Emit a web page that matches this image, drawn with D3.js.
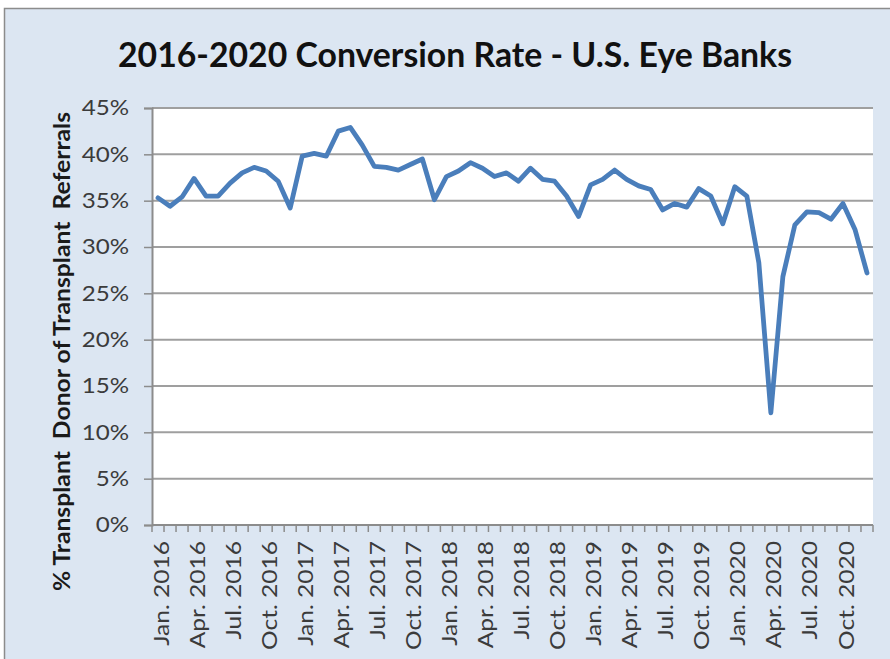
<!DOCTYPE html>
<html>
<head>
<meta charset="utf-8">
<script src="https://cdn.jsdelivr.net/npm/d3@7"></script>
<style>
  html, body { margin: 0; padding: 0; background: #ffffff; }
  svg { display: block; }
  text { font-family: Lato, "Open Sans", sans-serif; }
</style>
</head>
<body>
<div id="chart"></div>
<script>
// Monthly conversion rate, Jan 2016 – Dec 2020 (percent)
const years = [2016, 2017, 2018, 2019, 2020];
const monthNames = ["Jan.", "Feb.", "Mar.", "Apr.", "May", "Jun.", "Jul.", "Aug.", "Sep.", "Oct.", "Nov.", "Dec."];
const rate2016 = [35.3, 34.4, 35.4, 37.4, 35.5, 35.5, 36.9, 38.0, 38.6, 38.2, 37.1, 34.2];
const rate2017 = [39.8, 40.1, 39.8, 42.5, 42.9, 41.0, 38.7, 38.6, 38.3, 38.9, 39.5, 35.1];
const rate2018 = [37.6, 38.2, 39.1, 38.5, 37.6, 38.0, 37.1, 38.5, 37.3, 37.1, 35.5, 33.3];
const rate2019 = [36.7, 37.3, 38.3, 37.3, 36.6, 36.2, 34.0, 34.7, 34.3, 36.3, 35.5, 32.5];
const rate2020 = [36.5, 35.5, 28.3, 12.1, 26.8, 32.4, 33.8, 33.7, 33.0, 34.7, 31.9, 27.2];
const yTicks = [0, 0.05, 0.10, 0.15, 0.20, 0.25, 0.30, 0.35, 0.40, 0.45];
const titleText = "2016-2020 Conversion Rate - U.S. Eye Banks";
const yAxisTitle = "% Transplant  Donor of Transplant  Referrals";

const rates = [rate2016, rate2017, rate2018, rate2019, rate2020];
const data = [];
years.forEach((yr, i) => {
  rates[i].forEach((v, m) => data.push({ label: monthNames[m] + " " + yr, m, value: v / 100 }));
});
// every third month carries a label
const labelled = data.filter(d => d.m % 3 === 0).map(d => d.label);

const W = 890, H = 659;
const plot = { left: 152, right: 873, top: 108, bottom: 525 };
const stretch = 1.15; // horizontal widening of tick label glyphs

const svg = d3.select("#chart").append("svg")
  .attr("width", W).attr("height", H);

// chart area
svg.append("rect")
  .attr("x", 4.5).attr("y", 8.5)
  .attr("width", W + 10).attr("height", H + 10)
  .attr("fill", "#dce6f2")
  .attr("stroke", "#8c8c8c").attr("stroke-width", 1.5);

// plot area
svg.append("rect")
  .attr("x", plot.left).attr("y", plot.top)
  .attr("width", plot.right - plot.left).attr("height", plot.bottom - plot.top)
  .attr("fill", "#ffffff");

const x = d3.scaleBand()
  .domain(data.map(d => d.label))
  .range([plot.left, plot.right])
  .paddingInner(0).paddingOuter(0);

const y = d3.scaleLinear()
  .domain([0, 0.45])
  .range([plot.bottom, plot.top]);

// horizontal gridlines
svg.append("g")
  .selectAll("line")
  .data(yTicks.filter(t => t > 0))
  .join("line")
  .attr("x1", plot.left).attr("x2", plot.right)
  .attr("y1", d => y(d)).attr("y2", d => y(d))
  .attr("stroke", "#9f9f9f").attr("stroke-width", 2);

// y axis
const yAxis = svg.append("g")
  .attr("transform", `translate(${plot.left},0)`)
  .call(d3.axisLeft(y).tickValues(yTicks).tickFormat(d3.format(".0%")).tickSize(8).tickPadding(14));
yAxis.select(".domain").attr("stroke", "#8c8c8c").attr("stroke-width", 2);
yAxis.selectAll(".tick line").attr("stroke", "#8c8c8c").attr("stroke-width", 1.5);
yAxis.selectAll(".tick text")
  .attr("font-size", 21).attr("fill", "#3b3b3b")
  .attr("x", -23 / stretch)
  .attr("transform", `scale(${stretch},1)`)
  .style("font-family", "Lato, 'Open Sans', sans-serif");

// x axis baseline and category boundary ticks
const boundaries = data.map(d => x(d.label)).concat([x(data[data.length - 1].label) + x.bandwidth()]);
svg.append("line")
  .attr("x1", plot.left).attr("x2", plot.right)
  .attr("y1", plot.bottom).attr("y2", plot.bottom)
  .attr("stroke", "#8c8c8c").attr("stroke-width", 2);
svg.append("g")
  .selectAll("line")
  .data(boundaries)
  .join("line")
  .attr("x1", d => d).attr("x2", d => d)
  .attr("y1", plot.bottom).attr("y2", plot.bottom + 7)
  .attr("stroke", "#8c8c8c").attr("stroke-width", 1.5);

// x axis labels (rotated)
const xAxis = svg.append("g")
  .attr("transform", `translate(0,${plot.bottom})`)
  .call(d3.axisBottom(x).tickValues(labelled).tickSize(0).tickPadding(0));
xAxis.select(".domain").remove();
xAxis.selectAll(".tick text")
  .attr("font-size", 21).attr("fill", "#3b3b3b")
  .attr("text-anchor", "end")
  .attr("dy", "0.36em")
  .attr("transform", `translate(3,16) rotate(-90) scale(${1.17},1)`)
  .attr("x", 0).attr("y", 0)
  .style("font-family", "Lato, 'Open Sans', sans-serif");

// data line
const line = d3.line()
  .x(d => x(d.label) + x.bandwidth() / 2)
  .y(d => y(d.value));
svg.append("path")
  .datum(data)
  .attr("d", line)
  .attr("fill", "none")
  .attr("stroke", "#4a7ebb")
  .attr("stroke-width", 4.8)
  .attr("stroke-linejoin", "round")
  .attr("stroke-linecap", "round");

// chart title
svg.append("text")
  .attr("x", 455).attr("y", 67)
  .attr("text-anchor", "middle")
  .attr("font-size", 35).attr("font-weight", "bold")
  .attr("textLength", 674).attr("lengthAdjust", "spacingAndGlyphs")
  .attr("fill", "#111")
  .text(titleText);

// y axis title
svg.append("text")
  .attr("transform", `translate(70,${(112 + 591) / 2}) rotate(-90)`)
  .attr("text-anchor", "middle")
  .attr("font-size", 23).attr("font-weight", "bold")
  .attr("textLength", 479).attr("lengthAdjust", "spacingAndGlyphs")
  .attr("fill", "#1a1a1a")
  .style("white-space", "pre")
  .text(yAxisTitle);
</script>
</body>
</html>
